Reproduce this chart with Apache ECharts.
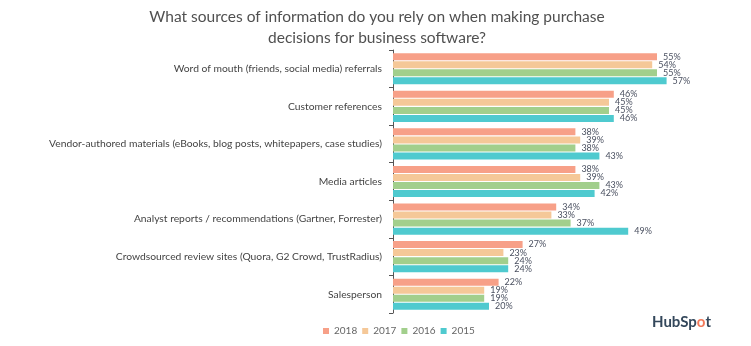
<!DOCTYPE html>
<html>
<head>
<meta charset="utf-8">
<script src="https://cdn.jsdelivr.net/npm/echarts@6/dist/echarts.min.js"></script>
<style>html,body{margin:0;padding:0;background:#fff}#c{width:751px;height:346px}</style>
</head>
<body>
<div id="c"></div>
<script>
const categories = [
  "Word of mouth (friends, social media) referrals",
  "Customer references",
  "Vendor-authored materials (eBooks, blog posts, whitepapers, case studies)",
  "Media articles",
  "Analyst reports / recommendations (Gartner, Forrester)",
  "Crowdsourced review sites (Quora, G2 Crowd, TrustRadius)",
  "Salesperson"
];
const years = ["2018", "2017", "2016", "2015"];
const values2018 = [55, 46, 38, 38, 34, 27, 22];
const values2017 = [54, 45, 39, 39, 33, 23, 19];
const values2016 = [55, 45, 38, 43, 37, 24, 19];
const values2015 = [57, 46, 43, 42, 49, 24, 20];
const seriesValues = [values2018, values2017, values2016, values2015];
const colors = ["#F7A088", "#F5C898", "#A2CF8C", "#4FCACF"];

const chart = echarts.init(document.getElementById('c'));
chart.setOption({
  animation: false,
  title: {
    text: "What sources of information do you rely on when making purchase\ndecisions for business software?",
    left: 372, top: 1, textAlign: 'center',
    textStyle: { fontFamily: 'Lato', fontSize: 15.5, fontWeight: 'normal', color: '#505050', lineHeight: 21 }
  },
  legend: {
    data: years, left: 318, top: 321, itemWidth: 6, itemHeight: 6, itemGap: 5, icon: 'rect',
    textStyle: { fontFamily: 'Lato', fontSize: 10, color: '#666' }
  },
  grid: { left: 393, top: 50, width: 288, height: 263, containLabel: false },
  xAxis: { type: 'value', min: 0, max: 60, show: false },
  yAxis: {
    type: 'category', data: categories, inverse: true,
    axisLine: { show: true, lineStyle: { color: '#555', width: 1 } },
    axisTick: { show: true, length: 4, lineStyle: { color: '#555' } },
    axisLabel: { fontFamily: 'Lato', fontSize: 10.3, color: '#444', margin: 11 }
  },
  series: seriesValues.map((vals, i) => ({
    name: years[i], type: 'bar', data: vals, barWidth: 7, barGap: '15%',
    itemStyle: { color: colors[i] },
    label: { show: true, position: 'right', distance: 6, formatter: '{c}%', fontFamily: 'Lato', fontSize: 9, color: '#4a5060' }
  })),
  graphic: [{
    type: 'text', left: 652, top: 315,
    style: {
      text: '{a|HubSp}{b|o}{a|t}',
      rich: {
        a: { fontFamily: 'Lato', fontSize: 15, fontWeight: 'bold', fill: '#33475b' },
        b: { fontFamily: 'Lato', fontSize: 15, fontWeight: 'bold', fill: '#f2795a' }
      }
    }
  }]
});
</script>
</body>
</html>
